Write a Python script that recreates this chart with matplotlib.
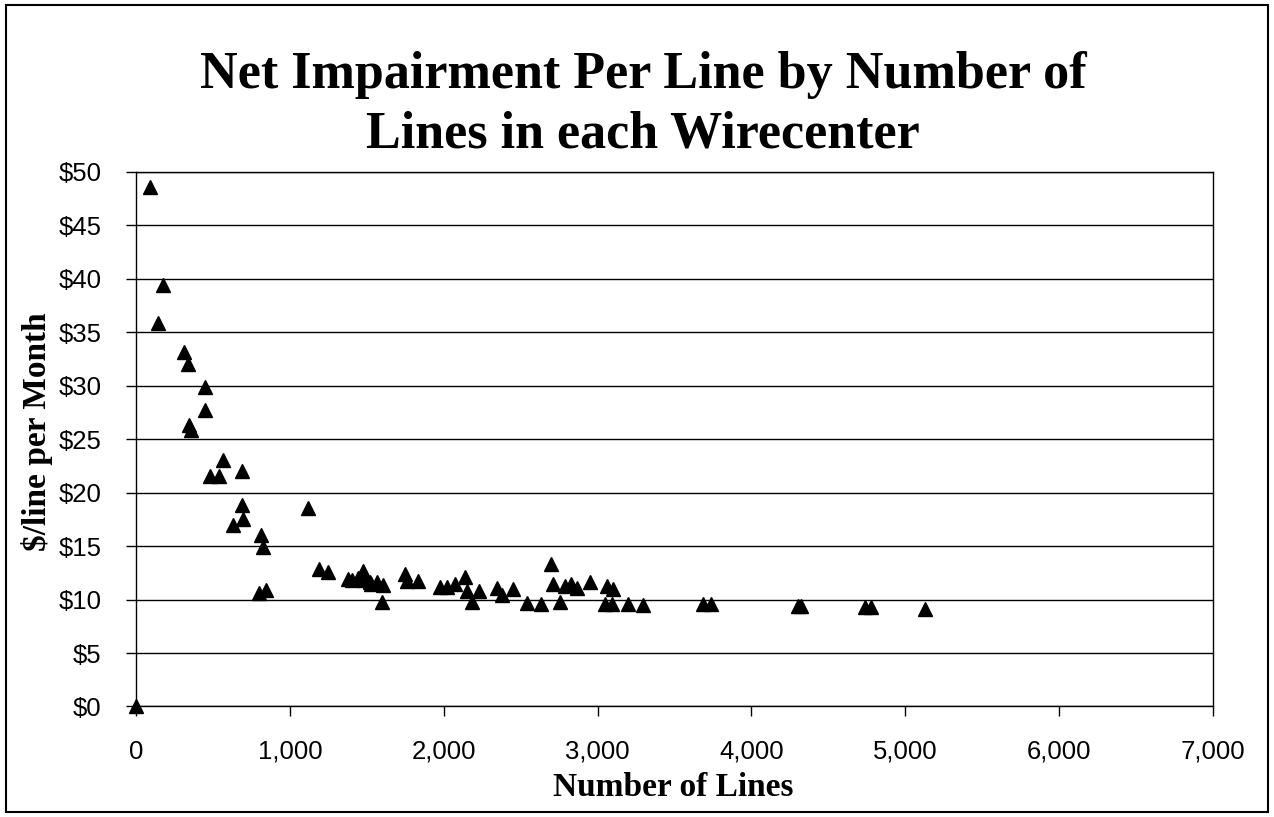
import matplotlib

matplotlib.use("Agg")
import matplotlib.pyplot as plt  # noqa: E402
from matplotlib.patches import Rectangle  # noqa: E402
from matplotlib.ticker import FuncFormatter, MultipleLocator  # noqa: E402

# number of lines in each wirecenter and net impairment ($/line per month)
lines = [
    0, 88, 141, 173, 312, 336, 345, 360, 450, 450, 481, 542, 563, 630, 689,
    689, 693, 800, 812, 823, 845, 1118, 1190, 1250, 1380, 1402, 1440, 1478,
    1490, 1521, 1530, 1565, 1601, 1608, 1748, 1760, 1831, 1976, 2019, 2073,
    2138, 2149, 2184, 2232, 2344, 2377, 2448, 2539, 2630, 2698, 2708, 2756,
    2789, 2825, 2864, 2951, 3048, 3060, 3092, 3099, 3196, 3297, 3683, 3736,
    4305, 4325, 4738, 4775, 5128,
]
impairment = [
    0.0, 48.6, 35.9, 39.4, 33.2, 32.0, 26.3, 25.9, 29.9, 27.7, 21.6, 21.6,
    23.1, 17.0, 22.0, 18.85, 17.5, 10.6, 16.0, 14.9, 10.9, 18.6, 12.9, 12.6,
    11.9, 11.8, 12.0, 12.7, 11.8, 11.6, 11.5, 11.6, 9.8, 11.4, 12.4, 11.7,
    11.7, 11.15, 11.2, 11.5, 12.1, 10.8, 9.75, 10.8, 11.1, 10.4, 11.0, 9.7,
    9.6, 13.3, 11.5, 9.8, 11.3, 11.5, 11.1, 11.6, 9.6, 11.3, 9.6, 11.0, 9.6,
    9.5, 9.6, 9.6, 9.4, 9.4, 9.3, 9.3, 9.1,
]

title = "Net Impairment Per Line by Number of\nLines in each Wirecenter"
xlabel = "Number of Lines"
ylabel = "$/line per Month"

SERIF = ["Liberation Serif", "DejaVu Serif"]
SANS = ["Liberation Sans", "DejaVu Sans"]

fig = plt.figure(figsize=(12.74, 8.17), dpi=100)
ax = fig.add_axes([0.1068, 0.1353, 0.9521 - 0.1068, 0.7895 - 0.1353])

ax.plot(lines, impairment, linestyle="none", marker="^", ms=9.5,
        color="black", clip_on=False, zorder=3)

ax.set_xlim(0, 7000)
ax.set_ylim(0, 50)
ax.xaxis.set_major_locator(MultipleLocator(1000))
ax.yaxis.set_major_locator(MultipleLocator(5))
ax.xaxis.set_major_formatter(FuncFormatter(lambda v, p: f"{int(v):,}"))
ax.yaxis.set_major_formatter(FuncFormatter(lambda v, p: f"${int(v)}"))
ax.grid(axis="y", color="black", lw=1)
ax.set_axisbelow(True)
for s in ax.spines.values():
    s.set_color("black")
    s.set_linewidth(1)
ax.tick_params(axis="x", direction="out", length=7, width=1, pad=17,
               labelsize=18.5)
ax.tick_params(axis="y", direction="out", length=7, width=1, pad=18,
               labelsize=18.5)
for lab in ax.get_xticklabels() + ax.get_yticklabels():
    lab.set_family(SANS)

fig.text(0.505, 1 - 105 / 817, title, ha="center", va="center", family=SERIF,
         fontweight="bold", fontsize=37.5, linespacing=1.32)
fig.text(673 / 1274, 1 - 788 / 817, xlabel, ha="center", va="center",
         family=SERIF, fontweight="bold", fontsize=24)
fig.text(37 / 1274, 1 - 432 / 817, ylabel, ha="center", va="center",
         rotation=90, family=SERIF, fontweight="bold", fontsize=24)

# chart area border
fig.patches.append(Rectangle((0.005, 0.006), 0.99, 0.988, fill=False,
                             lw=1.5, ec="black", transform=fig.transFigure))

fig.savefig("out.png", dpi=100)
plt.close(fig)
